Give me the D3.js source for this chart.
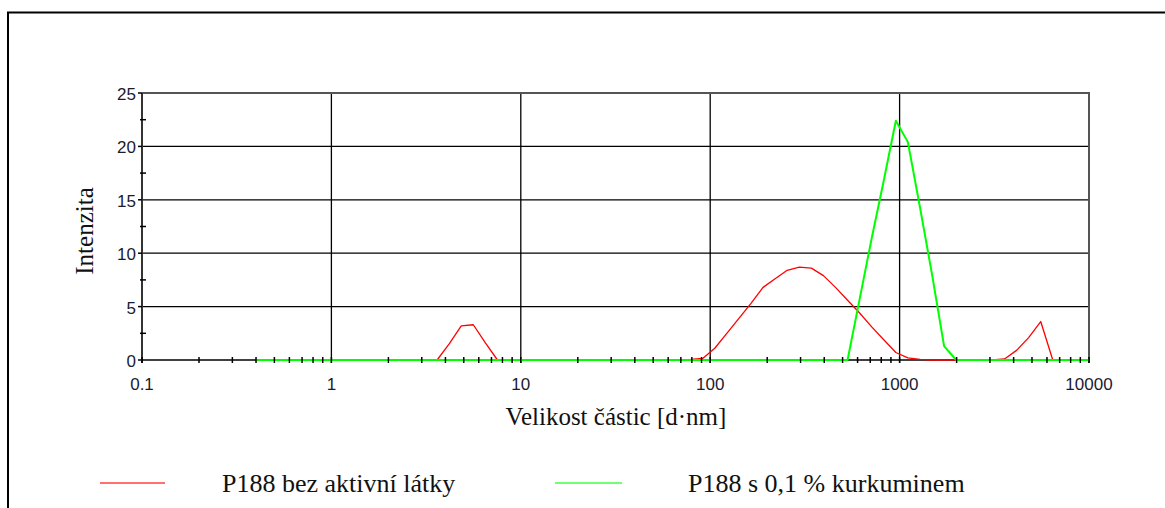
<!DOCTYPE html>
<html>
<head>
<meta charset="utf-8">
<script src="https://cdn.jsdelivr.net/npm/d3@7"></script>
<style>
  html, body { margin: 0; padding: 0; background: #fff; }
  svg { display: block; }
</style>
</head>
<body>
<svg id="chart" width="1165" height="508"></svg>
<script>
// Particle size bins [d.nm]
const sizes = [
  0.4, 0.4632, 0.5365, 0.6213, 0.7195, 0.8332, 0.9649, 1.117, 1.294, 1.499,
  1.736, 2.010, 2.328, 2.696, 3.122, 3.615, 4.187, 4.849, 5.615, 6.503,
  7.531, 8.721, 10.10, 11.70, 13.54, 15.69, 18.17, 21.04, 24.36, 28.21,
  32.67, 37.84, 43.82, 50.75, 58.77, 68.06, 78.82, 91.28, 105.7, 122.4,
  141.8, 164.2, 190.1, 220.2, 255.0, 295.3, 342.0, 396.1, 458.7, 531.2,
  615.1, 712.4, 825.0, 955.4, 1106, 1281, 1484, 1718, 1990, 2305,
  2669, 3091, 3580, 4145, 4801, 5560, 6439, 7456, 8635, 10000
];

// Intensity (%) - P188 without active substance
const intensityBlank = [
  0, 0, 0, 0, 0, 0, 0, 0, 0, 0,
  0, 0, 0, 0, 0, 0, 1.5, 3.2, 3.3, 1.6,
  0, 0, 0, 0, 0, 0, 0, 0, 0, 0,
  0, 0, 0, 0, 0, 0, 0.05, 0.15, 1.1, 2.5,
  3.9, 5.3, 6.8, 7.6, 8.4, 8.7, 8.6, 7.9, 6.8, 5.6,
  4.4, 3.1, 1.9, 0.7, 0.2, 0.05, 0, 0, 0, 0,
  0, 0, 0.1, 0.9, 2.1, 3.6, 0, 0, 0, 0
];

// Intensity (%) - P188 with 0.1 % curcumin
const intensityCurcumin = [
  0, 0, 0, 0, 0, 0, 0, 0, 0, 0,
  0, 0, 0, 0, 0, 0, 0, 0, 0, 0,
  0, 0, 0, 0, 0, 0, 0, 0, 0, 0,
  0, 0, 0, 0, 0, 0, 0, 0, 0, 0,
  0, 0, 0, 0, 0, 0, 0, 0, 0, 0,
  5.7, 11.4, 16.8, 22.4, 20.4, 14.3, 8.0, 1.3, 0, 0,
  0, 0, 0, 0, 0, 0, 0, 0, 0, 0
];

const xTickValues = [0.1, 1, 10, 100, 1000, 10000];
const xTickLabels = ["0.1", "1", "10", "100", "1000", "10000"];
const yTickValues = [0, 5, 10, 15, 20, 25];

const seriesNames = ["P188 bez aktivní látky", "P188 s 0,1 % kurkuminem"];
const seriesColors = ["#ff0000", "#00ff00"];

const svg = d3.select("#chart");
const L = 142, R = 1089, T = 93, B = 360;

const x = d3.scaleLog().domain([0.1, 10000]).range([L, R]);
const y = d3.scaleLinear().domain([0, 25]).range([B, T]);

// outer frame
svg.append("rect")
  .attr("x", 8).attr("y", 12.5)
  .attr("width", 1200).attr("height", 600)
  .attr("fill", "none").attr("stroke", "#000").attr("stroke-width", 2);

// horizontal gridlines
svg.append("g").selectAll("line")
  .data(yTickValues.filter(v => v > 0 && v < 25))
  .join("line")
  .attr("x1", L).attr("x2", R)
  .attr("y1", d => y(d)).attr("y2", d => y(d))
  .attr("stroke", "#000").attr("stroke-width", 1.3);

// vertical gridlines at decades
svg.append("g").selectAll("line")
  .data(xTickValues.filter(v => v > 0.1 && v < 10000))
  .join("line")
  .attr("x1", d => x(d)).attr("x2", d => x(d))
  .attr("y1", T).attr("y2", B + 3)
  .attr("stroke", "#000").attr("stroke-width", 1.3);

// plot frame: top and right
svg.append("path")
  .attr("d", `M${L},${T}H${R}V${B + 3}`)
  .attr("fill", "none").attr("stroke", "#555").attr("stroke-width", 2);

// left axis
svg.append("line")
  .attr("x1", L).attr("x2", L).attr("y1", T).attr("y2", B + 3)
  .attr("stroke", "#333").attr("stroke-width", 2);

// bottom axis
svg.append("line")
  .attr("x1", L).attr("x2", R).attr("y1", B).attr("y2", B)
  .attr("stroke", "#000").attr("stroke-width", 1.6);

// series lines
const line = d3.line().x(d => x(d[0])).y(d => y(d[1]));
const seriesData = [intensityBlank, intensityCurcumin];
seriesData.forEach((vals, i) => {
  svg.append("path")
    .datum(sizes.map((s, k) => [s, vals[k]]))
    .attr("d", line)
    .attr("fill", "none")
    .attr("stroke", seriesColors[i])
    .attr("stroke-width", i === 0 ? 1.3 : 2)
    .attr("stroke-linejoin", "round");
});

// x minor ticks
const minor = [];
for (let d = 0.1; d < 10000; d *= 10) {
  for (let m = 2; m <= 9; m++) minor.push(d * m);
}
svg.append("g").selectAll("line")
  .data(minor)
  .join("line")
  .attr("x1", d => x(d)).attr("x2", d => x(d))
  .attr("y1", B - 3).attr("y2", B + 3)
  .attr("stroke", "#000").attr("stroke-width", 1.5);

// major x tick stubs
svg.append("g").selectAll("line")
  .data(xTickValues)
  .join("line")
  .attr("x1", d => x(d)).attr("x2", d => x(d))
  .attr("y1", B - 3).attr("y2", B + 3)
  .attr("stroke", "#000").attr("stroke-width", 1.5);

// y minor ticks
const yMinor = d3.range(2.5, 25, 5);
svg.append("g").selectAll("line")
  .data(yMinor)
  .join("line")
  .attr("x1", L - 2).attr("x2", L + 4)
  .attr("y1", d => y(d)).attr("y2", d => y(d))
  .attr("stroke", "#000").attr("stroke-width", 1.5);

// y major tick stubs
svg.append("g").selectAll("line")
  .data(yTickValues)
  .join("line")
  .attr("x1", L - 4).attr("x2", L)
  .attr("y1", d => y(d)).attr("y2", d => y(d))
  .attr("stroke", "#000").attr("stroke-width", 1.5);

// tick labels
const tickFont = "'Liberation Sans', Arial, sans-serif";
svg.append("g").selectAll("text")
  .data(yTickValues)
  .join("text")
  .attr("x", 136).attr("y", d => y(d) + 7)
  .attr("text-anchor", "end")
  .attr("font-family", tickFont).attr("font-size", 17)
  .attr("fill", "#1b1b2e")
  .text(d => d);

svg.append("g").selectAll("text")
  .data(xTickValues)
  .join("text")
  .attr("x", d => x(d)).attr("y", 390)
  .attr("text-anchor", "middle")
  .attr("font-family", tickFont).attr("font-size", 17)
  .attr("fill", "#1b1b2e")
  .text((d, i) => xTickLabels[i]);

// axis titles
const titleFont = "'Liberation Serif', 'Times New Roman', serif";
svg.append("text")
  .attr("x", 616).attr("y", 425)
  .attr("text-anchor", "middle")
  .attr("font-family", titleFont).attr("font-size", 25)
  .attr("fill", "#111")
  .text("Velikost částic [d·nm]");

svg.append("text")
  .attr("transform", "translate(93,231) rotate(-90)")
  .attr("text-anchor", "middle")
  .attr("font-family", titleFont).attr("font-size", 25)
  .attr("fill", "#111")
  .text("Intenzita");

// legend
const legendItems = [
  { x1: 100, x2: 165, tx: 222 },
  { x1: 555, x2: 622, tx: 688 }
];
legendItems.forEach((it, i) => {
  svg.append("line")
    .attr("x1", it.x1).attr("x2", it.x2)
    .attr("y1", 483).attr("y2", 483)
    .attr("stroke", seriesColors[i]).attr("stroke-width", 1.5)
    .attr("stroke-opacity", 0.75);
  svg.append("text")
    .attr("x", it.tx).attr("y", 492)
    .attr("font-family", titleFont).attr("font-size", 26)
    .attr("fill", "#111")
    .text(seriesNames[i]);
});
</script>
</body>
</html>
